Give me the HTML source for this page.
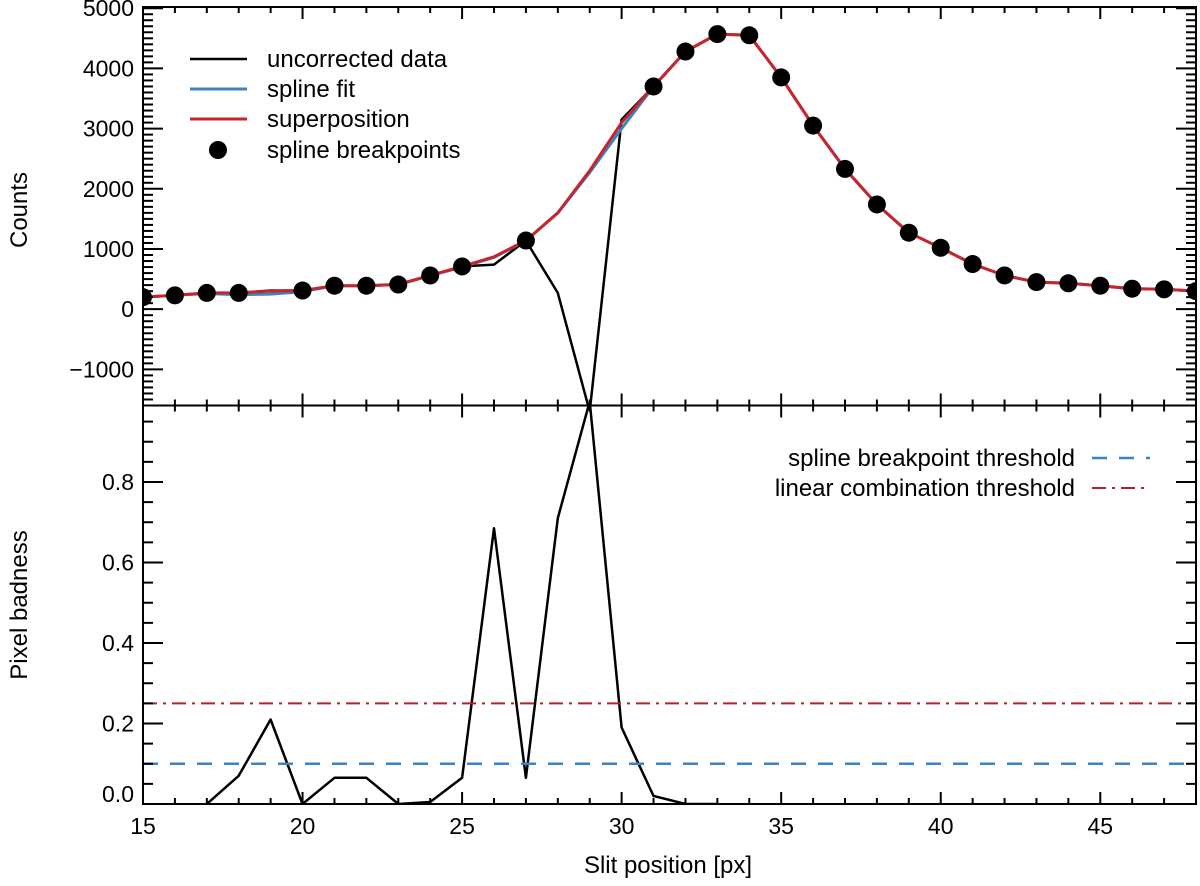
<!DOCTYPE html>
<html><head><meta charset="utf-8"><style>
html,body{margin:0;padding:0;background:#fff;}
svg{display:block;font-family:"Liberation Sans",sans-serif;}
</style></head><body>
<svg id="chart" width="1200" height="886" viewBox="0 0 1200 886">
<g id="gtop"></g>
<g id="gbot"></g>
<g id="gax"></g>
</svg>
<script>
const slitX = [15,16,17,18,19,20,21,22,23,24,25,26,27,28,29,30,31,32,33,34,35,36,37,38,39,40,41,42,43,44,45,46,47,48];
const rawCounts = [200,230,270,270,310,310,390,390,410,560,710,740,1140,270,-1700,3150,3700,4280,4570,4550,3850,3050,2330,1740,1270,1020,750,560,450,430,390,340,330,300];
const splineCounts = [200,230,260,240,250,290,390,390,410,560,700,860,1140,1600,2270,3000,3700,4280,4570,4550,3850,3050,2330,1740,1270,1020,750,560,450,430,390,340,330,300];
const superCounts = [200,230,270,270,300,310,390,390,410,560,710,870,1140,1600,2300,3100,3700,4280,4570,4550,3850,3050,2330,1740,1270,1020,750,560,450,430,390,340,330,300];
const breakX = [15,16,17,18,20,21,22,23,24,25,27,31,32,33,34,35,36,37,38,39,40,41,42,43,44,45,46,47,48];
const breakCounts = [200,230,270,270,310,390,390,410,560,710,1140,3700,4280,4570,4550,3850,3050,2330,1740,1270,1020,750,560,450,430,390,340,330,300];
const badX = [17,18,19,20,21,22,23,24,25,26,27,28,29,30,31,32,33];
const badness = [0,0.07,0.21,0,0.065,0.065,0,0.005,0.065,0.685,0.065,0.71,1.0,0.19,0.02,0,0];
const splineThreshold = [0.1];
const linearThreshold = [0.25];
const xTicks = [15,20,25,30,35,40,45];
const countTicks = [-1000,0,1000,2000,3000,4000,5000];
const badTicks = [0.0,0.2,0.4,0.6,0.8];

const L=143,R=1196,T=7,M=405.5,B=804;
const X0=15,X1=48;
const sx=v=>L+(v-X0)/(X1-X0)*(R-L);
const CY0=-1600,CY1=5020;
const syT=v=>M-(v-CY0)/(CY1-CY0)*(M-T);
const BY0=0,BY1=0.99;
const syB=v=>B-(v-BY0)/(BY1-BY0)*(B-M);
const NS='http://www.w3.org/2000/svg';
function mk(tag,attrs,parent){const e=document.createElementNS(NS,tag);for(const k in attrs)e.setAttribute(k,attrs[k]);parent.appendChild(e);return e;}
const gTop=document.getElementById('gtop'),gBot=document.getElementById('gbot'),gAx=document.getElementById('gax');
const chartSvg=document.getElementById('chart');
const defs=mk('defs',{},chartSvg);
const c1=mk('clipPath',{id:'ct'},defs);mk('rect',{x:L,y:T,width:R-L,height:M-T},c1);
const c2=mk('clipPath',{id:'cb'},defs);mk('rect',{x:L,y:M,width:R-L,height:B-M},c2);
gTop.setAttribute('clip-path','url(#ct)');gBot.setAttribute('clip-path','url(#cb)');

function drawLine(xs,ys,fy,color,w,parent,name,dash){
  const d=xs.map((x,i)=>(i?'L':'M')+sx(x).toFixed(1)+' '+fy(ys[i]).toFixed(1)).join(' ');
  const p=mk('path',{d:d,fill:'none',stroke:color,'stroke-width':w,'stroke-linejoin':'round'},parent);
  if(dash)p.setAttribute('stroke-dasharray',dash);
  
  
  return p;
}
drawLine(slitX,rawCounts,syT,'#000',2.5,gTop,'uncorrected-data-line');
drawLine(slitX,splineCounts,syT,'#3a84c4',3,gTop,'spline-fit-line');
drawLine(slitX,superCounts,syT,'#c8242c',3,gTop,'superposition-line');
breakX.forEach((x,i)=>{
  const c=mk('circle',{cx:sx(x),cy:syT(breakCounts[i]),r:9,fill:'#000'},gTop);
  
  
});
drawLine(badX,badness,syB,'#000',2.5,gBot,'pixel-badness-line');
{
 const y=syB(splineThreshold[0]);
 const p=mk('line',{x1:L,x2:R,y1:y,y2:y,stroke:'#3a84c4','stroke-width':2.5,'stroke-dasharray':'15 12'},gBot);
 
 
 const y2=syB(linearThreshold[0]);
 const q=mk('line',{x1:L,x2:R,y1:y2,y2:y2,stroke:'#b0232b','stroke-width':2,'stroke-dasharray':'14 6 3 6'},gBot);
 
 
}
[[T,M],[M,B]].forEach(([a,b],i)=>{
  const r=mk('rect',{x:L,y:a,width:R-L,height:b-a,fill:'none',stroke:'#000','stroke-width':2},gAx);
  
  
});
for(let v=X0;v<=X1;v++){
  const major=(v%5===0);const len=major?12:6;
  [T,M,B].forEach(y=>{
    if(y!==T) mk('line',{x1:sx(v),x2:sx(v),y1:y,y2:y-len,stroke:'#000','stroke-width':2},gAx);
    if(y!==B) mk('line',{x1:sx(v),x2:sx(v),y1:y,y2:y+len,stroke:'#000','stroke-width':2},gAx);
  });
}
xTicks.forEach(v=>{const t=mk('text',{x:sx(v),y:B+30,'font-size':23,'text-anchor':'middle'},gAx);t.textContent=v;
 
 });
for(let v=-1500;v<=5000;v+=100){
  const major=(v%1000===0);const len=major?20:10;
  mk('line',{x1:L,x2:L+len,y1:syT(v),y2:syT(v),stroke:'#000','stroke-width':2},gAx);
  mk('line',{x1:R,x2:R-len,y1:syT(v),y2:syT(v),stroke:'#000','stroke-width':2},gAx);
}
countTicks.forEach(v=>{const t=mk('text',{x:134,y:syT(v)+8,'font-size':23,'text-anchor':'end'},gAx);t.textContent=v<0?'\u2212'+Math.abs(v):v;
 
 });
for(let i=0;i<=19;i++){const v=i*0.05;const major=(i%4===0);const len=major?20:10;
  mk('line',{x1:L,x2:L+len,y1:syB(v),y2:syB(v),stroke:'#000','stroke-width':2},gAx);
  mk('line',{x1:R,x2:R-len,y1:syB(v),y2:syB(v),stroke:'#000','stroke-width':2},gAx);}
badTicks.forEach(v=>{const t=mk('text',{x:134,y:Math.min(syB(v)+8,802),'font-size':23,'text-anchor':'end'},gAx);t.textContent=v.toFixed(1);
 
 });
</script>
<svg style="position:absolute;left:0;top:0" width="1200" height="886" font-family="Liberation Sans, sans-serif">
<text x="668" y="873" font-size="24" text-anchor="middle">Slit position [px]</text>
<text transform="translate(27,210) rotate(-90)" font-size="24" text-anchor="middle">Counts</text>
<text transform="translate(27,605) rotate(-90)" font-size="24" text-anchor="middle">Pixel badness</text>
<g font-size="24">
<line x1="190" y1="59" x2="247" y2="59" stroke="#000" stroke-width="2.5"/>
<text x="267" y="67">uncorrected data</text>
<line x1="190" y1="89" x2="247" y2="89" stroke="#3a84c4" stroke-width="3"/>
<text x="267" y="97">spline fit</text>
<line x1="190" y1="119" x2="247" y2="119" stroke="#c8242c" stroke-width="3"/>
<text x="267" y="127">superposition</text>
<circle cx="218" cy="150" r="9" fill="#000"/>
<text x="267" y="158">spline breakpoints</text>
</g>
<g font-size="24">
<text x="1075" y="466" text-anchor="end">spline breakpoint threshold</text>
<line x1="1092" y1="458" x2="1150" y2="458" stroke="#3a84c4" stroke-width="2.5" stroke-dasharray="15 12"/>
<text x="1075" y="496" text-anchor="end">linear combination threshold</text>
<line x1="1092" y1="488" x2="1150" y2="488" stroke="#b0232b" stroke-width="2" stroke-dasharray="14 6 3 6"/>
</g>
</svg>
</body></html>
